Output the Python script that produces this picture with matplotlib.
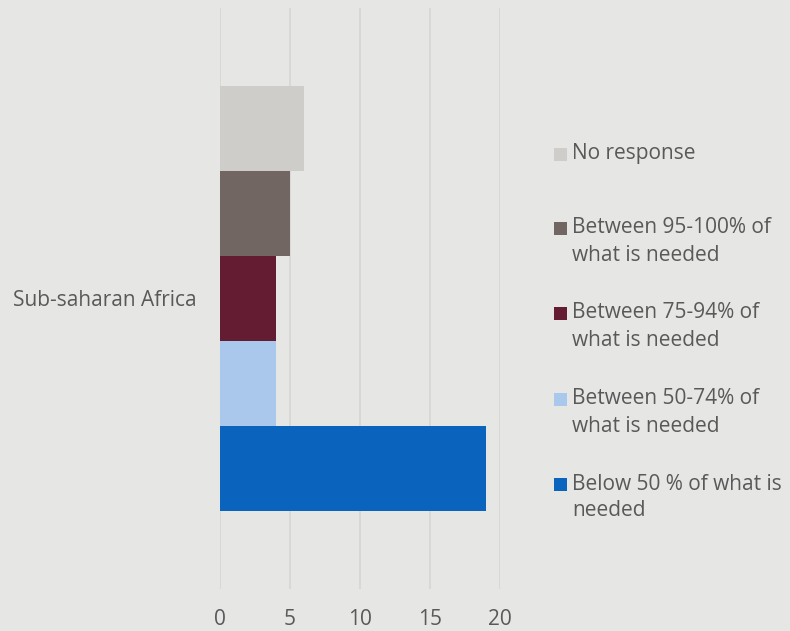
import matplotlib
matplotlib.use("Agg")
import matplotlib.pyplot as plt
from matplotlib.patches import Rectangle

plt.rcParams['font.family'] = ['Open Sans', 'DejaVu Sans']

categories = ["Sub-saharan Africa"]
series_names = [
    "Below 50 % of what is\nneeded",
    "Between 50-74% of\nwhat is needed",
    "Between 75-94% of\nwhat is needed",
    "Between 95-100% of\nwhat is needed",
    "No response",
]
series_values = [[19], [4], [4], [5], [6]]
colors = ["#0a64bd", "#a9c8ec", "#631c31", "#716661", "#cfcdc9"]
xticks = [0, 5, 10, 15, 20]

bg = "#e6e6e4"
txt = "#595959"
fs = 15

fig = plt.figure(figsize=(7.9, 6.31), dpi=100, facecolor=bg)
ax = fig.add_axes([220/790, 1-589/631, 280/790, (589-8)/631], facecolor=bg)

n = len(series_names)
group = 0.733
h = group / n
for i, (name, vals, c) in enumerate(zip(series_names, series_values, colors)):
    ys = [k - group/2 + h*(i+0.5) for k in range(len(categories))]
    ax.barh(ys, vals, height=h, color=c, label=name, zorder=3)

ax.set_xlim(0, 20)
ax.set_ylim(-0.5, 0.5)
ax.set_xticks(xticks)
ax.set_xticklabels([str(t) for t in xticks], fontsize=fs, color=txt)
ax.set_yticks(range(len(categories)))
ax.set_yticklabels(categories, fontsize=fs, color=txt)
ax.tick_params(length=0)
ax.tick_params(axis='x', pad=14.5)
ax.tick_params(axis='y', pad=17)
ax.grid(axis='x', color="#d6d6d4", linewidth=1.2, zorder=0)
for s in ax.spines.values():
    s.set_visible(False)

# legend (top to bottom), first-line y positions in pixels
leg_y = [154, 228, 313, 399, 484]
line_h = 27
for name, c, y in zip(series_names[::-1], colors[::-1], leg_y):
    fig.patches.append(Rectangle((554/790, 1-(y+6.5)/631), 13/790, 13/631,
                                 transform=fig.transFigure, facecolor=c, edgecolor='none'))
    for j, line in enumerate(name.split("\n")):
        fig.text(572/790, 1-(y + j*line_h)/631, line, fontsize=fs, color=txt,
                 va='center', ha='left')

fig.savefig("out.png", dpi=100, facecolor=bg)
